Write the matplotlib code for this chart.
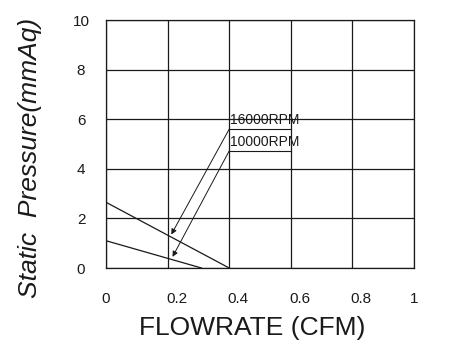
import matplotlib
matplotlib.use("Agg")
from matplotlib import pyplot as plt
from matplotlib.transforms import ScaledTranslation

plt.rcParams['font.family'] = ['Liberation Sans', 'DejaVu Sans']

# P-Q curves, flow (CFM) vs static pressure (mmAq)
flow_16000 = [0.0, 0.4]
press_16000 = [2.65, 0.0]
flow_10000 = [0.0, 0.31]
press_10000 = [1.1, 0.0]

x_ticks = [0, 0.2, 0.4, 0.6, 0.8, 1]
x_labels = ['0', '0.2', '0.4', '0.6', '0.8', '1']
y_ticks = [0, 2, 4, 6, 8, 10]

ink = '#1a1a1a'

fig = plt.figure(figsize=(4.69, 3.59), dpi=100)
ax = fig.add_axes([106 / 469, 1 - 268 / 359, 308 / 469, 248 / 359])

ax.plot(flow_16000, press_16000, color=ink, lw=0.9)
ax.plot(flow_10000, press_10000, color=ink, lw=0.9)

ax.set_xlim(0, 1)
ax.set_ylim(0, 10)
ax.set_xticks(x_ticks)
ax.set_xticklabels(x_labels)
ax.set_yticks(y_ticks)
ax.grid(True, color=ink, lw=0.9)
ax.tick_params(axis='x', length=0, pad=17, labelsize=11, colors=ink)
ax.tick_params(axis='y', length=0, pad=18, labelsize=11, colors=ink)
for lbl in ax.get_yticklabels():
    lbl.set_horizontalalignment('center')
# decimal labels sit a little right of their gridlines in the original
shift = ScaledTranslation(9 / 100, 0, fig.dpi_scale_trans)
for lbl in ax.get_xticklabels():
    if '.' in lbl.get_text():
        lbl.set_transform(lbl.get_transform() + shift)
for sp in ax.spines.values():
    sp.set_color(ink)
    sp.set_linewidth(0.9)

# speed labels with leader lines and arrows
ax.text(0.403, 5.68, '16000RPM', fontsize=10, color=ink, va='bottom')
ax.plot([0.4, 0.6], [5.6, 5.6], color=ink, lw=0.8)
ax.text(0.403, 4.8, '10000RPM', fontsize=10, color=ink, va='bottom')
ax.plot([0.4, 0.6], [4.72, 4.72], color=ink, lw=0.8)
ax.annotate('', xy=(0.212, 1.35), xytext=(0.4, 5.6),
            arrowprops=dict(arrowstyle='-|>', color=ink, lw=0.7,
                            mutation_scale=8, shrinkA=0, shrinkB=0))
ax.annotate('', xy=(0.216, 0.45), xytext=(0.4, 4.72),
            arrowprops=dict(arrowstyle='-|>', color=ink, lw=0.7,
                            mutation_scale=8, shrinkA=0, shrinkB=0))

fig.text(30 / 469, 1 - 158 / 359, 'Static  Pressure(mmAq)', rotation=90,
         style='italic', fontsize=19, color=ink, ha='center', va='center')
fig.text(252 / 469, 1 - 328 / 359, 'FLOWRATE (CFM)', fontsize=19,
         color=ink, ha='center', va='center')

fig.savefig('out.png', dpi=100)
